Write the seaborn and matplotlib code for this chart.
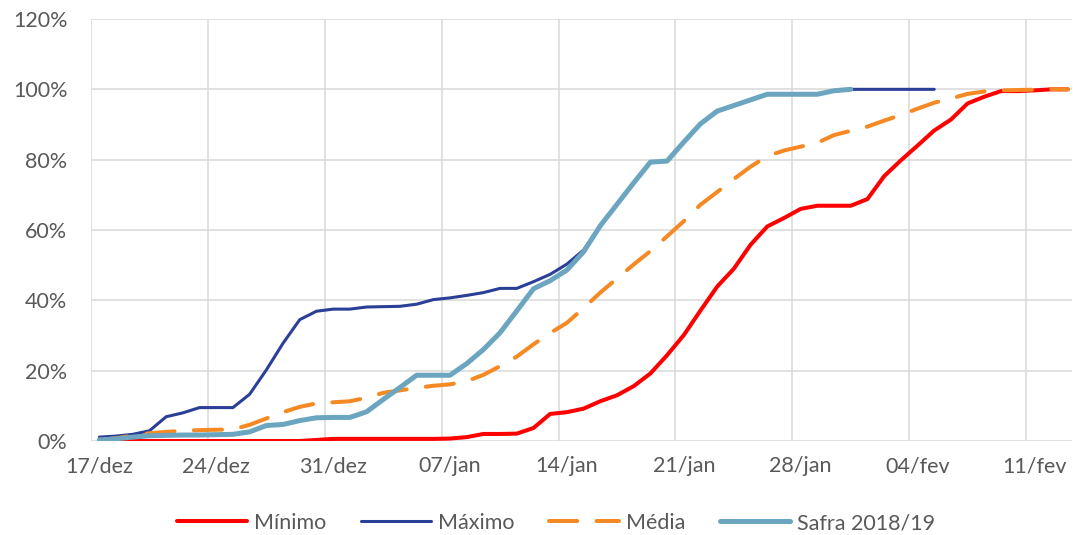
import numpy as np
import pandas as pd
import matplotlib
matplotlib.use("Agg")
import matplotlib.pyplot as plt
import seaborn as sns
from matplotlib.ticker import FuncFormatter, FixedLocator

# ---- data (cumulative %, one value per day starting 17/dez) ----
tick_labels = ["17/dez", "24/dez", "31/dez", "07/jan", "14/jan",
               "21/jan", "28/jan", "04/fev", "11/fev"]

minimo = [0, 0, 0, 0, 0, 0, 0, 0, 0, 0, 0, 0, 0, 0.3,
          0.6, 0.6, 0.6, 0.6, 0.6, 0.6, 0.6, 0.7, 1.1, 2.0, 2.0, 2.1, 3.7, 7.7,
          8.2, 9.2, 11.3, 13.0, 15.6, 19.2, 24.4, 30.1, 37.1, 43.9, 49.0, 55.8,
          61.0, 63.4, 66.0, 66.9, 66.9, 66.9, 68.8, 75.3, 79.8, 84.0, 88.3,
          91.4, 96.0, 97.9, 99.5, 99.5, 99.7, 100, 100]

maximo = [1.1, 1.4, 1.9, 2.9, 6.9, 8.0, 9.5, 9.5, 9.5, 13.3, 20.2, 27.8,
          34.5, 36.9, 37.5, 37.5, 38.1, 38.2, 38.3, 38.9, 40.2, 40.7, 41.4,
          42.2, 43.4, 43.4, 45.3, 47.4, 50.3, 54.3, 61.2, 67.3, 73.4, 79.3,
          79.6, 85.0, 90.2, 93.8, 95.4, 97.0, 98.6, 98.6, 98.6, 98.6, 99.6,
          100, 100, 100, 100, 100, 100]

media = [0.3, 0.8, 1.5, 2.2, 2.6, 2.9, 3.1, 3.2, 3.3, 4.6, 6.4, 8.2, 9.7,
         10.7, 11.0, 11.3, 12.3, 13.7, 14.4, 15.1, 15.7, 16.1, 17.0, 18.8,
         21.3, 24.0, 27.5, 30.7, 33.6, 37.8, 42.2, 46.2, 50.2, 54.0, 58.2,
         62.5, 67.2, 70.8, 74.5, 78.0, 81.0, 82.6, 83.7, 84.8, 87.0, 88.2,
         89.4, 91.1, 92.7, 94.5, 96.2, 97.4, 98.7, 99.4, 99.7, 99.8, 99.9,
         100, 100]

safra = [0.3, 0.6, 1.1, 1.5, 1.6, 1.7, 1.7, 1.8, 1.9, 2.6, 4.4, 4.7, 5.8,
         6.6, 6.7, 6.7, 8.3, 11.8, 15.2, 18.7, 18.7, 18.7, 22.0, 26.0, 30.8,
         37.0, 43.3, 45.6, 48.6, 53.8, 61.2, 67.3, 73.4, 79.3, 79.6, 85.0,
         90.2, 93.8, 95.4, 97.0, 98.6, 98.6, 98.6, 98.6, 99.6, 100]

series_names = ["Mínimo", "Máximo", "Média", "Safra 2018/19"]

# ---- style ----
sns.set_theme(style="white")
plt.rcParams["font.family"] = ["Lato", "DejaVu Sans"]
plt.rcParams["text.color"] = "#595959"

fig = plt.figure(figsize=(10.73, 5.35), dpi=100)
ax = fig.add_axes([91 / 1073, 1 - 441 / 535, (1072 - 91) / 1073, (441 - 19) / 535])

styles = {
    "Mínimo": dict(color="#FF0000", lw=2.9, ls="-"),
    "Máximo": dict(color="#2A3F96", lw=2.2, ls="-"),
    "Média": dict(color="#F58A24", lw=2.9, ls=(0, (7.0, 4.8))),
    "Safra 2018/19": dict(color="#6BA5BF", lw=3.6, ls="-"),
}
values = {"Mínimo": minimo, "Máximo": maximo, "Média": media,
          "Safra 2018/19": safra}

for name in series_names:
    v = values[name]
    df = pd.DataFrame({"dia": np.arange(len(v)) + 0.5, "pct": v})
    st = styles[name]
    sns.lineplot(data=df, x="dia", y="pct", ax=ax, color=st["color"],
                 linewidth=st["lw"], linestyle=st["ls"], label=name,
                 solid_capstyle="round", dash_capstyle="round",
                 solid_joinstyle="round")

ax.set_xlim(0, 58.75)
ax.set_ylim(0, 120)
# labels centred on each labelled day, gridlines on the day boundaries
ax.xaxis.set_major_locator(FixedLocator(np.arange(len(tick_labels)) * 7 + 0.5))
ax.set_xticklabels(tick_labels)
ax.xaxis.set_minor_locator(FixedLocator(np.arange(len(tick_labels)) * 7))
ax.set_yticks(np.arange(0, 121, 20))
ax.yaxis.set_major_formatter(FuncFormatter(lambda v, p: f"{v:.0f}%"))
ax.grid(False)
ax.grid(True, axis="y", which="major", color="#D9D9D9", lw=1.1)
ax.grid(True, axis="x", which="minor", color="#D9D9D9", lw=1.1)
ax.set_axisbelow(True)
for s in ax.spines.values():
    s.set_visible(False)
ax.tick_params(axis="both", which="both", length=0, labelsize=15.5,
               labelcolor="#595959")
ax.tick_params(axis="x", pad=11)
ax.tick_params(axis="y", pad=17)
ax.set_xlabel("")
ax.set_ylabel("")

leg = ax.legend(loc="center", bbox_to_anchor=(556 / 1073, 1 - 523 / 535),
                bbox_transform=fig.transFigure,
                ncol=4, frameon=False, fontsize=15.5, handlelength=3.25,
                handletextpad=0.33, columnspacing=1.6)
for t in leg.get_texts():
    t.set_color("#595959")

fig.savefig("out.png", dpi=100)
